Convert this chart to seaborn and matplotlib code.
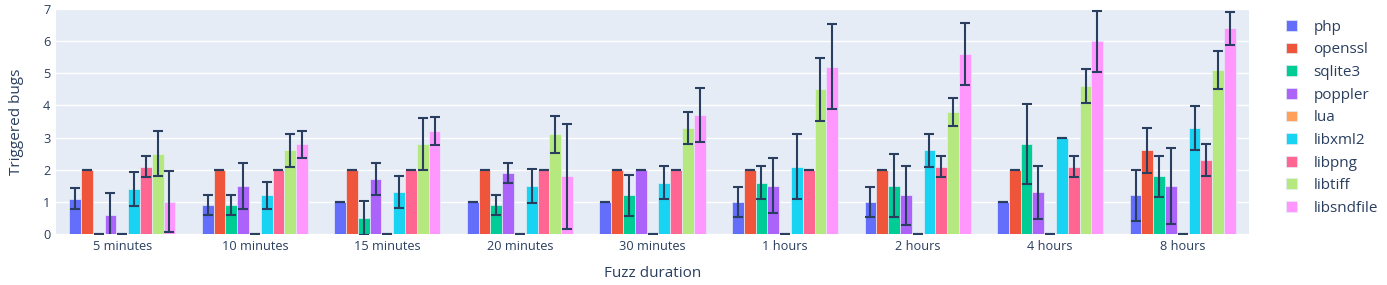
import matplotlib
matplotlib.use("Agg")
import matplotlib.pyplot as plt
import seaborn as sns
import pandas as pd
import numpy as np

durations = ["5 minutes", "10 minutes", "15 minutes", "20 minutes", "30 minutes",
             "1 hours", "2 hours", "4 hours", "8 hours"]
programs = ["php", "openssl", "sqlite3", "poppler", "lua", "libxml2", "libpng", "libtiff", "libsndfile"]

php = [1.1, 0.9, 1.0, 1.0, 1.0, 1.0, 1.0, 1.0, 1.2]
php_err = [0.32, 0.31, 0.0, 0.0, 0.0, 0.47, 0.47, 0.0, 0.79]
openssl = [2.0, 2.0, 2.0, 2.0, 2.0, 2.0, 2.0, 2.0, 2.6]
openssl_err = [0.0, 0.0, 0.0, 0.0, 0.0, 0.0, 0.0, 0.0, 0.71]
sqlite3 = [0.0, 0.9, 0.5, 0.9, 1.2, 1.6, 1.5, 2.8, 1.8]
sqlite3_err = [0.0, 0.31, 0.52, 0.32, 0.65, 0.52, 0.98, 1.24, 0.64]
poppler = [0.6, 1.5, 1.7, 1.9, 2.0, 1.5, 1.2, 1.3, 1.5]
poppler_err = [0.69, 0.71, 0.5, 0.32, 0.0, 0.85, 0.93, 0.83, 1.18]
lua = [0.0, 0.0, 0.0, 0.0, 0.0, 0.0, 0.0, 0.0, 0.0]
lua_err = [0.0, 0.0, 0.0, 0.0, 0.0, 0.0, 0.0, 0.0, 0.0]
libxml2 = [1.4, 1.2, 1.3, 1.5, 1.6, 2.1, 2.6, 3.0, 3.3]
libxml2_err = [0.52, 0.42, 0.49, 0.53, 0.52, 1.0, 0.52, 0.0, 0.68]
libpng = [2.1, 2.0, 2.0, 2.0, 2.0, 2.0, 2.1, 2.1, 2.3]
libpng_err = [0.32, 0.0, 0.0, 0.0, 0.0, 0.0, 0.33, 0.33, 0.49]
libtiff = [2.5, 2.6, 2.8, 3.1, 3.3, 4.5, 3.8, 4.6, 5.1]
libtiff_err = [0.7, 0.52, 0.8, 0.57, 0.49, 0.97, 0.43, 0.52, 0.58]
libsndfile = [1.0, 2.8, 3.2, 1.8, 3.7, 5.2, 5.6, 6.0, 6.4]
libsndfile_err = [0.95, 0.42, 0.43, 1.63, 0.83, 1.32, 0.97, 0.95, 0.52]

values = [php, openssl, sqlite3, poppler, lua, libxml2, libpng, libtiff, libsndfile]
errors = [php_err, openssl_err, sqlite3_err, poppler_err, lua_err, libxml2_err,
          libpng_err, libtiff_err, libsndfile_err]

colors = ["#636EFA", "#EF553B", "#00CC96", "#AB63FA", "#FFA15A", "#19D3F3",
          "#FF6692", "#B6E880", "#FF97FF"]

rows = []
for p, vals, errs in zip(programs, values, errors):
    for d, v, e in zip(durations, vals, errs):
        rows.append({"duration": d, "program": p, "value": v, "err": e})
df = pd.DataFrame(rows)

sns.set_theme(style="white")
plt.rcParams["font.family"] = ["Open Sans", "DejaVu Sans"]
text_color = "#2a3f5f"

fig = plt.figure(figsize=(13.87, 2.85), dpi=100)
ax = fig.add_axes([56 / 1387, 51 / 285, 1193 / 1387, 225 / 285])
ax.set_facecolor("#E5ECF6")

sns.barplot(data=df, x="duration", y="value", hue="program", order=durations,
            hue_order=programs, palette=colors, width=0.8, errorbar=None,
            saturation=1, edgecolor="#E5ECF6", linewidth=0.5, ax=ax, zorder=2)

for cont, prog in zip(ax.containers, programs):
    sub = df[df["program"] == prog].set_index("duration").loc[durations]
    xs = [b.get_x() + b.get_width() / 2 for b in cont]
    ax.errorbar(xs, sub["value"].values, yerr=sub["err"].values, fmt="none",
                ecolor=text_color, elinewidth=1.5, capsize=3.8, capthick=1.5, zorder=3)

ax.set_ylim(0, 7)
ax.set_xlim(-0.5, len(durations) - 0.5)
ax.set_yticks(range(0, 8))
ax.yaxis.grid(True, color="white", linewidth=1.0, zorder=0)
ax.set_axisbelow(True)
for s in ax.spines.values():
    s.set_visible(False)
ax.tick_params(axis="both", length=0, labelsize=9.2, labelcolor=text_color, pad=4)
ax.set_xlabel("Fuzz duration", fontsize=11, color=text_color, labelpad=10)
ax.set_ylabel("Triggered bugs", fontsize=11, color=text_color, labelpad=14)

h, l = ax.get_legend_handles_labels()
leg = ax.legend(h, l, loc="upper left", bbox_to_anchor=(1.022, 1.0), frameon=False,
                fontsize=11, handlelength=0.7, handleheight=0.7, handletextpad=1.1,
                labelspacing=0.5, borderaxespad=0.3)
for t in leg.get_texts():
    t.set_color(text_color)

fig.savefig("out.png", dpi=100)
